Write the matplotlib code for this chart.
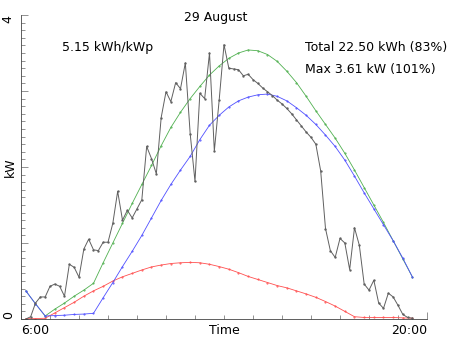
import numpy as np
import matplotlib
matplotlib.use("Agg")
import matplotlib.pyplot as plt
from matplotlib.ticker import MultipleLocator, FixedLocator

# measured power, every 10 min from 6:10 to 19:30 (kW)
measured = [0.00, 0.03, 0.21, 0.29, 0.29, 0.43, 0.46, 0.43, 0.30, 0.72,
            0.68, 0.55, 0.92, 1.05, 0.91, 0.90, 1.01, 1.01, 1.26, 1.68,
            1.30, 1.43, 1.33, 1.45, 1.57, 2.27, 2.11, 1.91, 2.65, 2.99,
            2.86, 3.11, 3.03, 3.37, 2.44, 1.81, 2.97, 2.90, 3.50, 2.21,
            2.88, 3.61, 3.30, 3.29, 3.28, 3.20, 3.22, 3.15, 3.10, 3.04,
            2.99, 2.94, 2.88, 2.83, 2.77, 2.70, 2.62, 2.54, 2.46, 2.39,
            2.30, 1.95, 1.19, 0.90, 0.81, 1.06, 1.00, 0.65, 1.20, 0.97,
            0.46, 0.38, 0.51, 0.21, 0.14, 0.34, 0.29, 0.18, 0.06, 0.02, 0.01]
t_measured = 6 + 10/60 + np.arange(len(measured)) * 10/60

# model curves, every 20 min from 6:10 to 19:30 (kW)
green = [0.37, 0.20, 0.04, 0.13, 0.21, 0.30, 0.38, 0.47, 0.74, 1.00,
         1.26, 1.52, 1.77, 2.02, 2.28, 2.52, 2.72, 2.90, 3.06, 3.21,
         3.33, 3.43, 3.50, 3.54, 3.53, 3.48, 3.39, 3.26, 3.11, 2.93,
         2.74, 2.56, 2.38, 2.18, 1.96, 1.73, 1.50, 1.27, 1.03, 0.79, 0.55]
blue = [0.37, 0.20, 0.04, 0.045, 0.05, 0.06, 0.065, 0.075, 0.28, 0.48,
        0.69, 0.89, 1.10, 1.33, 1.56, 1.77, 1.96, 2.14, 2.36, 2.55,
        2.68, 2.79, 2.87, 2.92, 2.95, 2.96, 2.93, 2.87, 2.78, 2.68,
        2.56, 2.42, 2.27, 2.09, 1.88, 1.66, 1.45, 1.24, 1.03, 0.80, 0.55]
red = [0.005, 0.005, 0.01, 0.08, 0.15, 0.22, 0.30, 0.37, 0.43, 0.50,
       0.555, 0.60, 0.645, 0.685, 0.71, 0.73, 0.74, 0.745, 0.74, 0.72,
       0.69, 0.655, 0.61, 0.56, 0.52, 0.48, 0.44, 0.41, 0.37, 0.33,
       0.285, 0.23, 0.17, 0.10, 0.03, 0.02, 0.02, 0.02, 0.02, 0.015, 0.01]
t_model = 6 + 10/60 + np.arange(len(green)) * 20/60

title = "29 August"
txt_spec = "5.15 kWh/kWp"
txt_total = "Total 22.50 kWh (83%)"
txt_max = "Max 3.61 kW (101%)"
x_ticks = [6, 20]
x_ticklabels = ["6:00", "20:00"]
y_ticks = [0, 1, 2, 3, 4]
y_ticklabels = ["0", "", "", "", "4"]

plt.rcParams['font.family'] = ['DejaVu Sans']
fig = plt.figure(figsize=(4.52, 3.39), dpi=100)
W, H = 452, 339
ax = fig.add_axes([21/W, 1 - 319/H, 406/W, 304/H])

ax.plot(t_model, red, color='#ff5050', lw=0.6, marker='.', ms=1.0)
ax.plot(t_model, green, color='#50b050', lw=0.6, marker='.', ms=1.0)
ax.plot(t_model, blue, color='#5050ff', lw=0.6, marker='.', ms=1.0)
ax.plot(t_measured, measured, color='#606060', lw=0.7, marker='.', ms=1.4)

ax.set_xlim(6, 20)
ax.set_ylim(0, 4)
for s in ['top', 'right']:
    ax.spines[s].set_visible(False)
for s in ['left', 'bottom']:
    ax.spines[s].set_linewidth(0.6)
    ax.spines[s].set_color('#444444')

ax.xaxis.set_major_locator(FixedLocator(x_ticks))
ax.set_xticklabels(x_ticklabels)
ax.xaxis.set_minor_locator(MultipleLocator(1))
ax.yaxis.set_major_locator(FixedLocator(y_ticks))
ax.set_yticklabels(y_ticklabels, rotation=90)
ax.yaxis.set_minor_locator(MultipleLocator(0.1))
ax.tick_params(which='major', direction='in', length=5, width=0.5, color='#666666', labelsize=9)
ax.tick_params(which='minor', direction='in', length=3, width=0.5, color='#666666')
ax.tick_params(axis='x', pad=3.5)
ax.tick_params(axis='y', pad=4.5)

xt = ax.xaxis.get_major_ticks()
xt[0].label1.set_horizontalalignment('left')
xt[1].label1.set_horizontalalignment('right')
yt = ax.yaxis.get_major_ticks()
yt[0].label1.set_verticalalignment('bottom')
yt[4].label1.set_verticalalignment('top')

ax.set_xlabel("Time", fontsize=9)
ax.xaxis.set_label_coords(0.5, -0.018)
ax.set_ylabel("kW", fontsize=9)
ax.yaxis.set_label_coords(-0.01, 0.5)

fig.text(216/W, 1 - 17/H, title, ha='center', va='center', fontsize=9)
fig.text(62/W, 1 - 48/H, txt_spec, ha='left', va='center', fontsize=9)
fig.text(305/W, 1 - 48/H, txt_total, ha='left', va='center', fontsize=9)
fig.text(305/W, 1 - 70/H, txt_max, ha='left', va='center', fontsize=9)

fig.savefig("out.png", dpi=100)
